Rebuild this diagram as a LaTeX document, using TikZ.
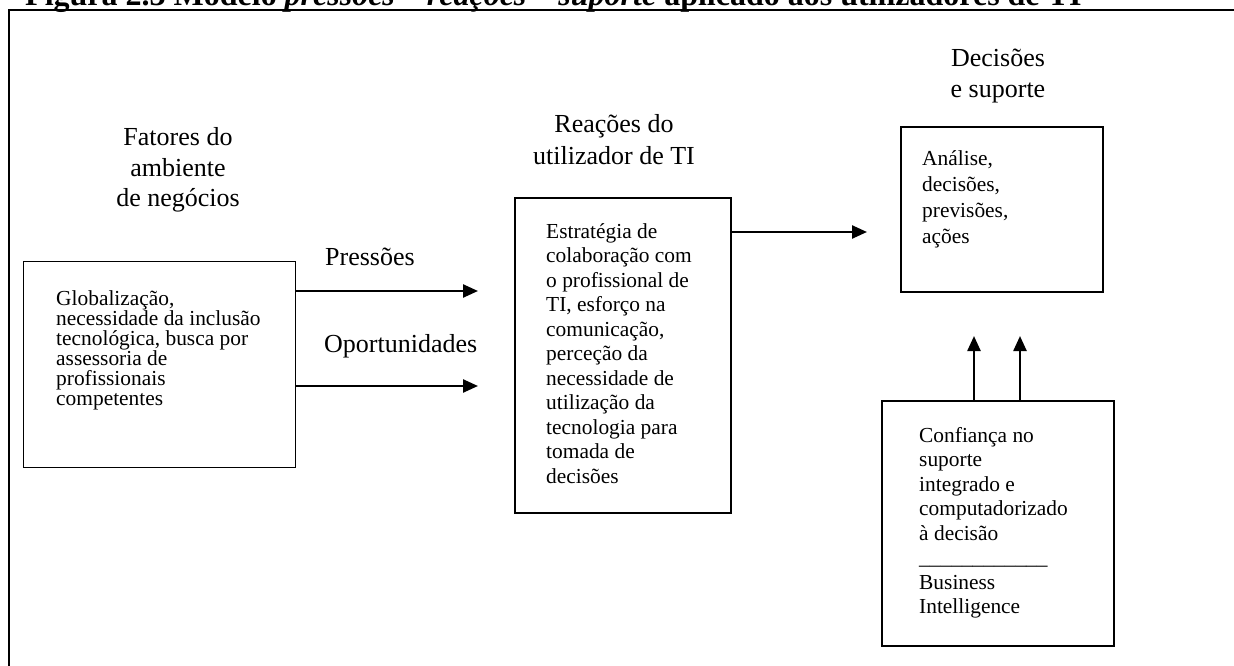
\documentclass[tikz,border=0pt]{standalone}
\usepackage{fontspec}
\setmainfont{Liberation Serif}
\usetikzlibrary{arrows.meta}
% stacked lines with a fixed baseline distance; the block's baseline is that of its first line
\newcommand\leftlines[2]{\vtop{\baselineskip=#1\relax\lineskiplimit=-\maxdimen\lineskip=0pt\halign{##\hfil\cr#2\crcr}}}
\newcommand\centerlines[2]{\vtop{\baselineskip=#1\relax\lineskiplimit=-\maxdimen\lineskip=0pt\halign{\hfil##\hfil\cr#2\crcr}}}
\begin{document}
\begin{tikzpicture}[x=1pt,y=-1pt,
  frameline/.style={line width=2.4pt},
  blk/.style={draw, line width=1.8pt, inner sep=0pt, anchor=north west},
  arr/.style={line width=2.4pt, -{Triangle[length=15pt,width=13pt]}},
  lbl/.style={inner sep=0pt, font=\fontsize{26}{30}\selectfont},
  body/.style={inner sep=0pt, anchor=base west, font=\fontsize{21.4}{24}\selectfont}]
\clip (0,0) rectangle (1234,666);
\fill[white] (0,0) rectangle (1234,666);

% caption and surrounding frame
\node[anchor=base west, inner sep=0pt, font=\bfseries\fontsize{32}{36}\selectfont] (title) at (25,6)
  {Figura 2.3 Modelo \textit{pressões – reações – suporte} aplicado aos utilizadores de TI};
\draw[frameline] (9,700) -- (9,10) -- (1260,10);

% column headings
\node[lbl, anchor=base] (hfat) at (178,146) {\centerlines{30.5pt}{Fatores do\cr ambiente\cr de negócios}};
\node[lbl, anchor=base] (hrea) at (614,133) {\centerlines{32pt}{Reações do\cr utilizador de TI}};
\node[lbl, anchor=base] (hdec) at (998,67) {\centerlines{31pt}{Decisões\cr e suporte}};

% boxes
\node[blk, line width=1.3pt, minimum width=272pt, minimum height=206pt] (env) at (23,261) {};
\node[blk, minimum width=216pt, minimum height=315pt] (rea) at (514,197) {};
\node[blk, minimum width=202pt, minimum height=165pt] (dec) at (900,126) {};
\node[blk, minimum width=232pt, minimum height=245pt] (bi) at (881,400) {};

% box contents
\node[body] (tenv) at (56,305) {\leftlines{20pt}{Globalização,\cr necessidade da inclusão\cr tecnológica, busca por\cr assessoria de\cr profissionais\cr competentes}};
\node[body] (trea) at (546,238) {\leftlines{24.5pt}{Estratégia de\cr colaboração com\cr o profissional de\cr TI, esforço na\cr comunicação,\cr perceção da\cr necessidade de\cr utilização da\cr tecnologia para\cr tomada de\cr decisões}};
\node[body] (tdec) at (922,165) {\leftlines{26pt}{Análise,\cr decisões,\cr previsões,\cr ações}};
\node[body] (tbi) at (919,442) {\leftlines{24.5pt}{Confiança no\cr suporte\cr integrado e\cr computadorizado\cr à decisão\cr \textunderscore\textunderscore\textunderscore\textunderscore\textunderscore\textunderscore\textunderscore\textunderscore\textunderscore\textunderscore\textunderscore\textunderscore\cr Business\cr Intelligence}};

% arrow labels
\node[lbl, anchor=base west] (lpre) at (325,265) {Pressões};
\node[lbl, anchor=base west] (lopo) at (324,352) {Oportunidades};

% arrow ends
\coordinate (pend) at (478,291);
\coordinate (oend) at (478,386);
\coordinate (rend) at (867,232);
\coordinate (uone) at (974,336);
\coordinate (utwo) at (1020,336);

% connectors
\draw[arr] (env.east |- pend) -- (pend);
\draw[arr] (env.east |- oend) -- (oend);
\draw[arr] (rea.east |- rend) -- (rend);
\draw[arr] (bi.north -| uone) -- (uone);
\draw[arr] (bi.north -| utwo) -- (utwo);
\end{tikzpicture}
\end{document}
